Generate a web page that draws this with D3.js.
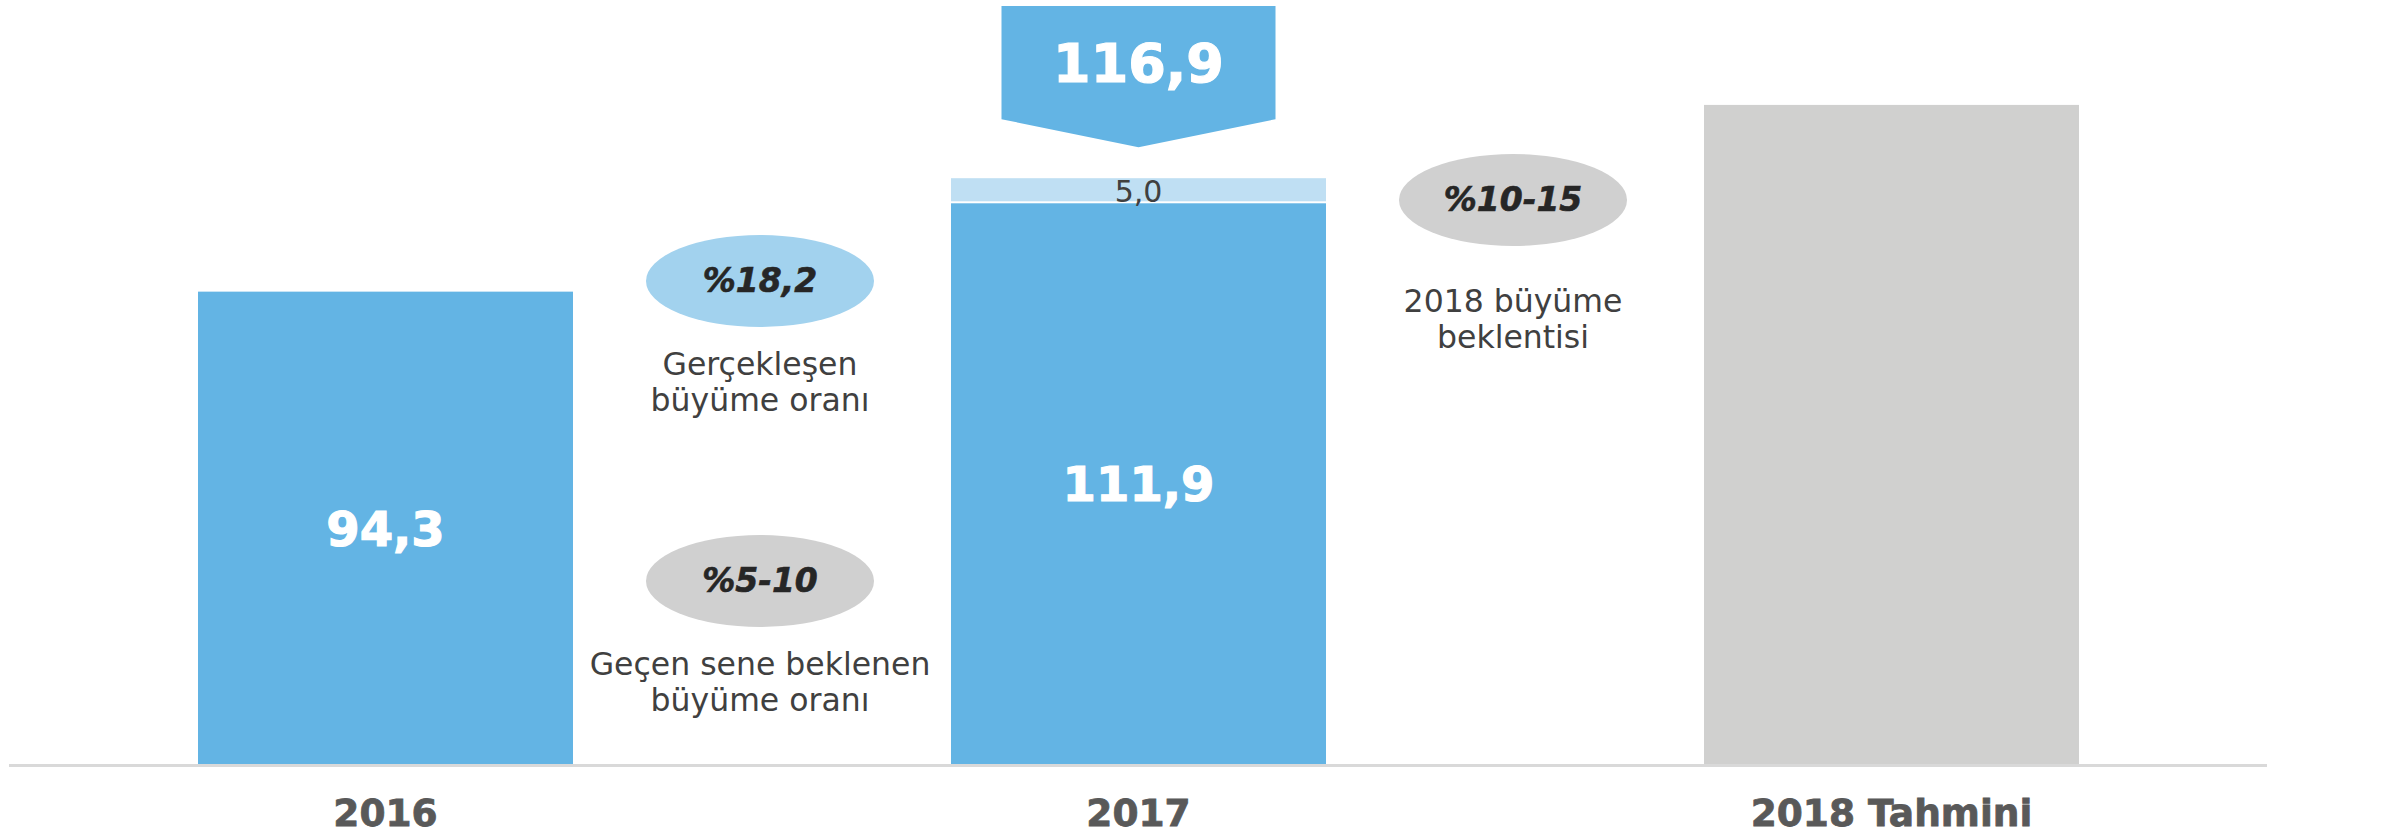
<!DOCTYPE html>
<html>
<head>
<meta charset="utf-8">
<script src="https://cdnjs.cloudflare.com/ajax/libs/d3/7.8.5/d3.min.js"></script>
<style>
  body { margin: 0; background: #fff; }
  text { font-family: "DejaVu Sans", Verdana, sans-serif; }
</style>
</head>
<body>
<div id="chart"></div>
<script>
// chart data
var categories = ["2016", "2017", "2018 Tahmini"];
var baseValues = [94.3, 111.9, 131.5];
var extraValues = [0, 5.0, 0];
var baseLabels = ["94,3", "111,9", ""];
var extraLabels = ["", "5,0", ""];
var totalLabel = "116,9";
var barColors = ["#63b4e4", "#63b4e4", "#d0d0cf"];

// growth bubbles (placed between two categories)
var bubbleText = ["%18,2", "%5-10", "%10-15"];
var bubbleNote = [["Gerçekleşen", "büyüme oranı"], ["Geçen sene beklenen", "büyüme oranı"], ["2018 büyüme", "beklentisi"]];
var bubbleBetween = [[0, 1], [0, 1], [1, 2]];
var bubbleColors = ["#a2d2ee", "#d0d0d0", "#d0d0d0"];

var chartWidth = 2382;
var chartHeight = 834;

var svgChart = d3
  .select("#chart")
  .append("svg")
  .attr("width", chartWidth)
  .attr("height", chartHeight);

var x = d3.scaleBand()
  .domain(categories)
  .range([9, 2268])
  .paddingInner(0.502)
  .paddingOuter(0.251);

var y = d3.scaleLinear()
  .domain([0, 152.4])
  .range([765, 0]);

// bars
svgChart.append("g")
  .selectAll("rect")
  .data(categories)
  .enter()
  .append("rect")
  .attr("x", function (d) { return x(d); })
  .attr("y", function (d, i) { return y(baseValues[i]); })
  .attr("width", x.bandwidth())
  .attr("height", function (d, i) { return y(0) - y(baseValues[i]); })
  .style("fill", function (d, i) { return barColors[i]; });

// stacked extra part (light blue) with white gap
svgChart.append("g")
  .selectAll("rect")
  .data(categories.filter(function (d, i) { return extraValues[i] > 0; }))
  .enter()
  .append("rect")
  .attr("x", function (d) { return x(d); })
  .attr("y", function (d) { var i = categories.indexOf(d); return y(baseValues[i] + extraValues[i]); })
  .attr("width", x.bandwidth())
  .attr("height", function (d) { var i = categories.indexOf(d); return y(baseValues[i]) - y(baseValues[i] + extraValues[i]) - 2; })
  .style("fill", "#bfdff3");

// value labels inside bars
svgChart.append("g")
  .selectAll("text")
  .data(categories)
  .enter()
  .append("text")
  .attr("x", function (d) { return x(d) + x.bandwidth() / 2; })
  .attr("y", function (d, i) { return (y(0) + y(baseValues[i])) / 2; })
  .attr("dy", "0.36em")
  .attr("text-anchor", "middle")
  .style("font-size", "48px")
  .style("font-weight", "bold")
  .style("fill", "#fff")
  .style("stroke", "#fff")
  .style("stroke-width", 1.2)
  .text(function (d, i) { return baseLabels[i]; });

// extra labels
svgChart.append("g")
  .selectAll("text")
  .data(categories)
  .enter()
  .append("text")
  .attr("x", function (d) { return x(d) + x.bandwidth() / 2; })
  .attr("y", function (d, i) { return y(baseValues[i]) - 1; })
  .attr("text-anchor", "middle")
  .style("font-size", "30px")
  .style("fill", "#404040")
  .text(function (d, i) { return extraLabels[i]; });

// total callout arrow above 2017
var ci = 1;
var cx = x(categories[ci]) + x.bandwidth() / 2;
var tipY = y(baseValues[ci] + extraValues[ci]) - 31;
var halfW = 137;
var calloutPath = [
  [cx - halfW, 6], [cx + halfW, 6], [cx + halfW, tipY - 28],
  [cx, tipY], [cx - halfW, tipY - 28]
];
svgChart.append("path")
  .attr("d", d3.line()(calloutPath) + "Z")
  .style("fill", "#63b4e4");
svgChart.append("text")
  .attr("x", cx)
  .attr("y", 82)
  .attr("text-anchor", "middle")
  .style("font-size", "54px")
  .style("font-weight", "bold")
  .style("fill", "#fff")
  .style("stroke", "#fff")
  .style("stroke-width", 1.2)
  .text(totalLabel);

// growth bubbles
var bubbleY = [281, 581, 200];
var bubbles = svgChart.append("g")
  .selectAll("g")
  .data(bubbleText)
  .enter()
  .append("g")
  .attr("transform", function (d, i) {
    var a = x(categories[bubbleBetween[i][0]]), b = x(categories[bubbleBetween[i][1]]);
    var mx = (a + b) / 2 + x.bandwidth() / 2 - 2;
    return "translate(" + mx + "," + bubbleY[i] + ")";
  });

bubbles.append("ellipse")
  .attr("rx", 114)
  .attr("ry", 46)
  .style("fill", function (d, i) { return bubbleColors[i]; });

bubbles.append("text")
  .attr("y", 11)
  .attr("text-anchor", "middle")
  .style("font-size", "33px")
  .style("font-weight", "bold")
  .style("font-style", "italic")
  .style("fill", "#262626")
  .style("stroke", "#262626")
  .style("stroke-width", 0.6)
  .text(function (d) { return d; });

bubbles.each(function (d, i) {
  var g = d3.select(this);
  var firstLine = i === 2 ? 112 : 94;
  bubbleNote[i].forEach(function (line, j) {
    g.append("text")
      .attr("y", firstLine + j * 36)
      .attr("text-anchor", "middle")
      .style("font-size", "31.5px")
      .style("fill", "#404040")
      .text(line);
  });
});

// x axis
var xAxis = svgChart.append("g")
  .attr("transform", "translate(0," + y(0) + ")")
  .call(d3.axisBottom(x).tickSize(0).tickPadding(34));
xAxis.select(".domain")
  .attr("d", "M9,0.5H2267")
  .style("stroke", "#d9d9d9")
  .style("stroke-width", 3);
xAxis.selectAll("text")
  .style("font-family", "DejaVu Sans, Verdana, sans-serif")
  .style("font-size", "37.5px")
  .style("font-weight", "bold")
  .style("fill", "#595959")
  .style("stroke", "#595959")
  .style("stroke-width", 0.8);
</script>
</body>
</html>
